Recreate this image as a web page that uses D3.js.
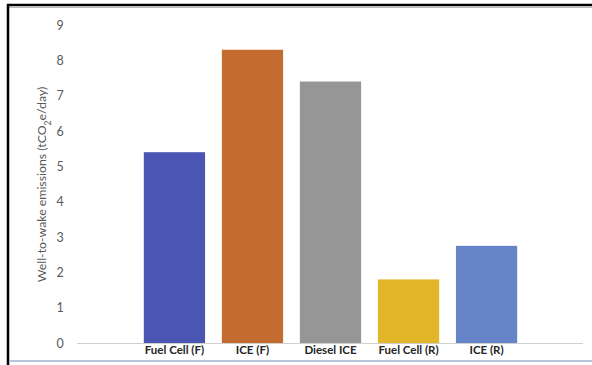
<!DOCTYPE html>
<html><head><meta charset="utf-8">
<script src="https://cdn.jsdelivr.net/npm/d3@7"></script>
<style>html,body{margin:0;padding:0;background:#fff;}svg{display:block;}</style>
</head><body>
<script>
const categories = ["Fuel Cell (F)", "ICE (F)", "Diesel ICE", "Fuel Cell (R)", "ICE (R)"];
const values = [5.4, 8.3, 7.4, 1.8, 2.75];
const barColors = ["#4A56B2", "#C46C2F", "#969696", "#E3B62A", "#6585C8"];
const yTicks = [0, 1, 2, 3, 4, 5, 6, 7, 8, 9];

const W = 592, H = 365;
const svg = d3.select("body").append("svg").attr("width", W).attr("height", H);

// frame
svg.append("rect").attr("x", 0).attr("y", 0).attr("width", W).attr("height", H).attr("fill", "#fff");
svg.append("line").attr("x1", 7).attr("x2", W).attr("y1", 5).attr("y2", 5).attr("stroke", "#000").attr("stroke-width", 2.5);
svg.append("line").attr("x1", 9).attr("x2", W).attr("y1", 7.5).attr("y2", 7.5).attr("stroke", "#b8bcc4").attr("stroke-width", 1);
svg.append("line").attr("x1", 8).attr("x2", 8).attr("y1", 4).attr("y2", H).attr("stroke", "#000").attr("stroke-width", 2.5);
svg.append("line").attr("x1", 9).attr("x2", W).attr("y1", 361).attr("y2", 361).attr("stroke", "#9fb2d6").attr("stroke-width", 1.5);

const y = d3.scaleLinear().domain([0, 9]).range([343, 25]);
const x = d3.scaleBand().domain(categories).range([136, 525]).paddingInner(0.215).paddingOuter(0.1);

// bars
svg.selectAll("rect.bar").data(categories).enter().append("rect")
  .attr("class", "bar")
  .attr("x", d => x(d))
  .attr("width", x.bandwidth())
  .attr("y", (d, i) => y(values[i]))
  .attr("height", (d, i) => y(0) - y(values[i]))
  .attr("fill", (d, i) => barColors[i]);

// baseline
svg.append("line").attr("x1", 77).attr("x2", 583).attr("y1", y(0) + 0.5).attr("y2", y(0) + 0.5)
  .attr("stroke", "#d0d0d0").attr("stroke-width", 1);

// y axis (labels only)
const yAxis = d3.axisLeft(y).tickValues(yTicks).tickSize(0).tickPadding(0).tickFormat(d3.format("d"));
const gy = svg.append("g").attr("transform", "translate(64,0)").call(yAxis);
gy.select(".domain").remove();
gy.selectAll("text").attr("fill", "#595959").style("font-family", "Lato, sans-serif").style("font-size", "12.5px").attr("text-anchor", "middle").attr("x", -4);

// x axis (labels only)
const xAxis = d3.axisBottom(x).tickSize(0).tickPadding(0);
const gx = svg.append("g").attr("transform", `translate(0,${y(0) + 3})`).call(xAxis);
gx.select(".domain").remove();
gx.selectAll("text").attr("fill", "#262626").style("font-family", "Lato, sans-serif").style("font-weight", "bold").style("font-size", "11.5px");

// y title
svg.append("text")
  .attr("transform", "translate(46,184.5) rotate(-90)")
  .attr("text-anchor", "middle")
  .attr("fill", "#595959")
  .style("font-family", "Lato, sans-serif")
  .style("font-size", "12.3px")
  .html('Well-to-wake emissions (tCO<tspan baseline-shift="sub" font-size="8.5px">2</tspan>e/day)');
</script>
</body></html>
